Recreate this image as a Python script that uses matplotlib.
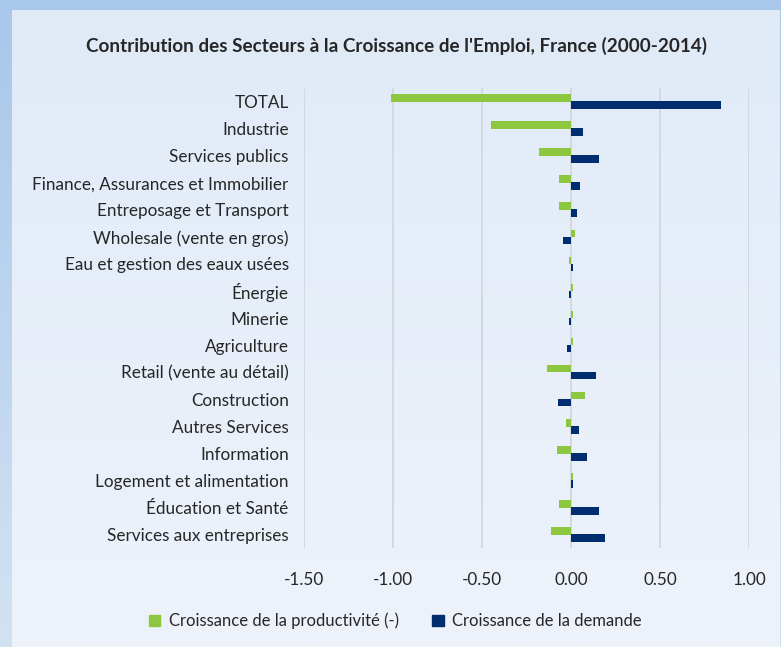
import numpy as np
import matplotlib
matplotlib.use("Agg")
import matplotlib.pyplot as plt
from matplotlib.patches import Patch
from matplotlib.colors import LinearSegmentedColormap

plt.rcParams['font.family'] = ['Lato', 'DejaVu Sans']

categories = ["TOTAL", "Industrie", "Services publics", "Finance, Assurances et Immobilier",
              "Entreposage et Transport", "Wholesale (vente en gros)", "Eau et gestion des eaux usées",
              "Énergie", "Minerie", "Agriculture", "Retail (vente au détail)", "Construction",
              "Autres Services", "Information", "Logement et alimentation", "Éducation et Santé",
              "Services aux entreprises"]
productivite = [-1.01, -0.45, -0.18, -0.065, -0.065, 0.02, -0.01, 0.01, 0.01, 0.01,
                -0.135, 0.08, -0.03, -0.08, 0.01, -0.07, -0.11]
demande = [0.84, 0.07, 0.16, 0.053, 0.036, -0.047, 0.01, -0.01, -0.012, -0.023,
           0.14, -0.073, 0.045, 0.088, 0.01, 0.158, 0.19]
xticks = [-1.5, -1.0, -0.5, 0.0, 0.5, 1.0]
title = "Contribution des Secteurs à la Croissance de l'Emploi, France (2000-2014)"
series_names = ["Croissance de la productivité (-)", "Croissance de la demande"]

GREEN = "#8dc63f"
NAVY = "#002d6f"
TXT = "#262626"

W, H = 781, 647
fig = plt.figure(figsize=(W / 100, H / 100), dpi=100)

# outer border gradient
bg = fig.add_axes([0, 0, 1, 1], zorder=-10)
grad = np.linspace(0, 1, 256).reshape(-1, 1)
cm_out = LinearSegmentedColormap.from_list("o", ["#a8c7eb", "#d2e2f3"])
bg.imshow(grad, aspect='auto', cmap=cm_out, extent=[0, 1, 0, 1], origin='upper')
bg.set_axis_off()

# inner panel gradient
pl, pb = 12 / W, 0
pw, ph = 1 - pl - 1 / W, 1 - 10 / H
panel = fig.add_axes([pl, pb, pw, ph], zorder=-9)
cm_in = LinearSegmentedColormap.from_list("i", ["#e0eaf7", "#eef3fb"])
panel.imshow(grad, aspect='auto', cmap=cm_in, extent=[0, 1, 0, 1], origin='upper')
panel.set_axis_off()

left, right = 304 / W, 749 / W
top, bottom = 1 - 88 / H, 1 - 548 / H
ax = fig.add_axes([left, bottom, right - left, top - bottom])
ax.set_facecolor('none')

y = np.arange(len(categories))
h = 0.28
off = 0.13
ax.barh(y - off, productivite, height=h, color=GREEN, zorder=3)
ax.barh(y + off, demande, height=h, color=NAVY, zorder=3)

ax.set_ylim(len(categories) - 0.5, -0.5)
ax.set_xlim(-1.5, 1.0)
ax.set_xticks(xticks)
ax.set_xticklabels([f"{v:.2f}" for v in xticks])
ax.set_yticks(y)
ax.set_yticklabels(categories)
ax.tick_params(axis='y', length=0, pad=11, labelsize=12.3, labelcolor=TXT)
ax.tick_params(axis='x', length=0, pad=17, labelsize=12.3, labelcolor=TXT)
ax.grid(axis='x', color='#d4d9e0', linewidth=1.4, zorder=0)
for s in ax.spines.values():
    s.set_visible(False)

fig.text(396 / W, 1 - 46 / H, title, ha='center', va='center', fontsize=13.6,
         fontweight='bold', color=TXT)

handles = [Patch(color=GREEN), Patch(color=NAVY)]
fig.legend(handles, series_names, loc='center', bbox_to_anchor=(395 / W, 1 - 621 / H),
           ncol=2, frameon=False, fontsize=12, labelcolor=TXT, handlelength=0.7,
           handleheight=0.7, handletextpad=0.5, columnspacing=2.0)

fig.savefig("out.png", dpi=100)
